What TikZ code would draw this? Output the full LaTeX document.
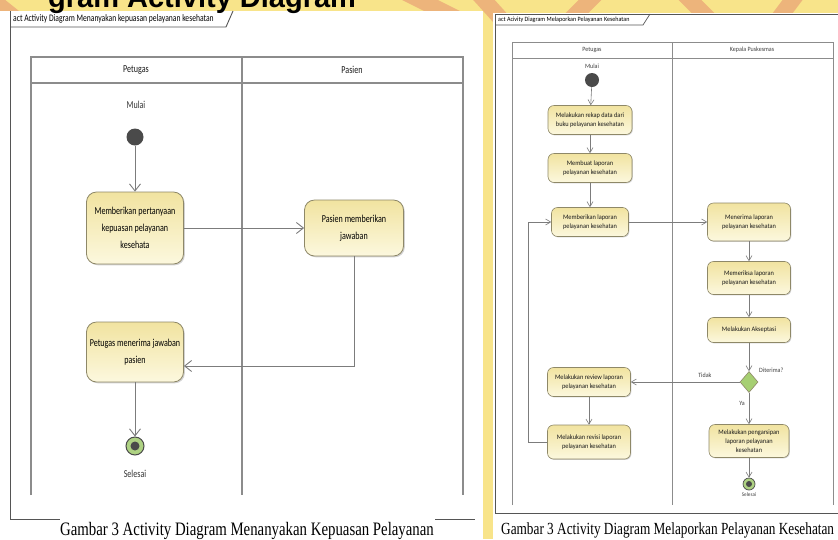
\documentclass[tikz,border=0pt]{standalone}
\usepackage{fontspec}
\usepackage{tikz}
\usetikzlibrary{arrows.meta,shapes.geometric,shadows}
\newfontfamily\leftuml[FakeStretch=0.76]{Carlito}
\newfontfamily\rightuml[FakeStretch=0.93]{Carlito}
\newfontfamily\capfont[FakeStretch=0.78]{Liberation Serif}
\newfontfamily\headfont{Liberation Sans}
\definecolor{bgyellow}{HTML}{F8E48A}
\definecolor{bgred}{HTML}{E07A6A}
\definecolor{lanegray}{HTML}{8C8C8C}
\definecolor{framegray}{HTML}{555555}
\definecolor{edgegray}{HTML}{7C7C7C}
\definecolor{boxedge}{HTML}{8E8868}
\definecolor{boxtop}{HTML}{F1E3A0}
\definecolor{boxbot}{HTML}{FCF8DE}
\definecolor{startgray}{HTML}{4A4A4A}
\definecolor{endgreen}{HTML}{AED283}
\definecolor{decgreen}{HTML}{A6CF72}
\tikzset{
  lanel/.style={draw=lanegray, line width=1.4pt},
  laner/.style={draw=lanegray, line width=0.8pt},
  frameln/.style={draw=framegray, line width=0.9pt},
  actl/.style={draw=boxedge, line width=0.8pt, rounded corners=10pt, top color=boxtop, bottom color=boxbot,
    align=center, text=black, inner sep=0pt, font=\leftuml\fontsize{10.6}{17}\selectfont,
    drop shadow={shadow xshift=1.3pt, shadow yshift=-1.3pt, opacity=0.35}},
  actr/.style={draw=boxedge, line width=0.6pt, rounded corners=6pt, top color=boxtop, bottom color=boxbot,
    align=center, text=black!90, inner sep=0pt, font=\rightuml\fontsize{6.8}{9}\selectfont,
    drop shadow={shadow xshift=0.9pt, shadow yshift=-0.9pt, opacity=0.35}},
  flowl/.style={draw=edgegray, line width=0.9pt, -{Straight Barb[length=7pt,width=11pt]}},
  flowr/.style={draw=edgegray, line width=0.6pt, -{Straight Barb[length=5pt,width=6pt]}},
  txtl/.style={text=black!80, font=\leftuml\fontsize{10.6}{12}\selectfont, inner sep=0pt},
  txtr/.style={text=black!75, font=\rightuml\fontsize{6.5}{8}\selectfont, inner sep=0pt},
  initnode/.style={circle, fill=startgray, inner sep=0pt},
  endnode/.style={circle, draw=startgray, fill=endgreen, inner sep=0pt},
  decnode/.style={diamond, draw=boxedge, line width=0.6pt, fill=decgreen, inner sep=0pt},
  caption/.style={fill=white, inner sep=2pt, text=black, font=\capfont\fontsize{19}{20}\selectfont},
  bgstroke/.style={draw=bgred, line width=16pt, opacity=0.45, line cap=round}
}
\begin{document}
\begin{tikzpicture}[x=1pt,y=-1pt]
\useasboundingbox (0,0) rectangle (838,539);
\clip (0,0) rectangle (838,539);
% background
\fill[bgyellow] (0,0) rectangle (838,539);
\draw[bgstroke] (-20,-10) -- (30,30);
\draw[bgstroke] (400,-10) -- (470,25);
\draw[bgstroke] (475,-10) -- (520,40);
\draw[bgstroke] (600,-10) -- (560,30);
\draw[bgstroke] (680,-10) -- (720,30);
\draw[bgstroke] (800,-10) -- (770,30);
\fill[white] (0,11) rectangle (483,539);
\fill[white] (493,13) rectangle (838,539);
%
% left diagram: frame and lanes
\draw[frameln] (10,519) -- (10,11);
\draw[frameln] (10,27) -- (226,27) -- (233,11);
\node[txtl, text=black, font=\leftuml\fontsize{10}{12}\selectfont, anchor=west] (llabel) at (13,19)
  {act Activity Diagram Menanyakan kepuasan pelayanan kesehatan};
\draw[frameln] (10,519) -- (60,519);
\draw[frameln] (435,519) -- (475,519);
\draw[lanel] (31,495) -- (31,57) -- (463,57) -- (463,495);
\draw[lanel] (31,83) -- (463,83);
\draw[lanel] (242,57) -- (242,495);
\node[txtl, text=black!90] (lpetugas) at (136,70) {Petugas};
\node[txtl, text=black!90] (lpasien) at (352,70) {Pasien};
%
% left diagram: activities
\node[txtl] (lmulai) at (136,105) {Mulai};
\node[initnode, minimum size=17pt] (lstart) at (135,137) {};
\node[actl, minimum width=97pt, minimum height=72pt] (ltanya) at (135,228)
  {Memberikan pertanyaan\\kepuasan pelayanan\\kesehata};
\node[actl, minimum width=99pt, minimum height=56pt] (ljawab) at (354,228)
  {Pasien memberikan\\jawaban};
\node[actl, minimum width=97pt, minimum height=60pt] (lterima) at (135,352)
  {Petugas menerima jawaban\\pasien};
\node[endnode, line width=1pt, minimum size=18pt] (lend) at (135,446) {};
\fill[startgray] (lend) circle (4.5pt);
\node[txtl] (lselesai) at (135,474) {Selesai};
%
\draw[flowl] (lstart) -- (ltanya);
\draw[flowl] (ltanya) -- (ljawab);
\draw[flowl] (ljawab.south) |- ([yshift=-14pt]lterima.east);
\draw[flowl] (lterima) -- (lend);
%
% right diagram: frame and lanes
\draw[frameln, line width=0.7pt] (495,513) -- (495,14) -- (838,14);
\draw[frameln, line width=0.7pt] (495,513) -- (838,513);
\draw[frameln, line width=0.7pt] (495,25) -- (643,25) -- (650,14);
\node[txtr, text=black, anchor=west] (rlabel) at (498,20) {act Acivity Diagram Melaporkan Pelayanan Kesehatan};
\draw[laner] (512,505) -- (512,42) -- (833,42) -- (833,505);
\draw[laner] (512,58) -- (833,58);
\draw[laner] (672,42) -- (672,505);
\node[txtr] (rpetugas) at (592,50) {Petugas};
\node[txtr] (rkepala) at (752,50) {Kepala Puskesmas};
%
% right diagram: activities
\node[txtr] (rmulai) at (592,66) {Mulai};
\node[initnode, minimum size=14pt] (rstart) at (592,80) {};
\node[actr, minimum width=84pt, minimum height=29pt] (rrekap) at (590,120)
  {Melakukan rekap data dari\\buku pelayanan kesehatan};
\node[actr, minimum width=84pt, minimum height=29pt] (rbuat) at (590,168)
  {Membuat laporan\\pelayanan kesehatan};
\node[actr, minimum width=77pt, minimum height=29pt] (rberi) at (590,222)
  {Memberikan laporan\\pelayanan kesehatan};
\node[actr, minimum width=83pt, minimum height=38pt] (rterima) at (749,222)
  {Menerima laporan\\pelayanan kesehatan};
\node[actr, minimum width=83pt, minimum height=33pt] (rperiksa) at (749,278)
  {Memeriksa laporan\\pelayanan kesehatan};
\node[actr, minimum width=83pt, minimum height=25pt] (rakseptasi) at (749,330)
  {Melakukan Akseptasi};
\node[decnode, minimum width=18pt, minimum height=21pt] (rcek) at (749,382) {};
\node[txtr, anchor=west] (rcekl) at (759,370) {Diterima?};
\node[actr, minimum width=83pt, minimum height=29pt] (rreview) at (589,382)
  {Melakukan review laporan\\pelayanan kesehatan};
\node[actr, minimum width=83pt, minimum height=34pt] (rrevisi) at (589,442)
  {Melakukan revisi laporan\\pelayanan kesehatan};
\node[actr, minimum width=80pt, minimum height=33pt] (rarsip) at (749,441)
  {Melakukan pengarsipan\\laporan pelayanan\\kesehatan};
\node[endnode, line width=0.7pt, minimum size=12pt] (rend) at (749,484) {};
\fill[startgray] (rend) circle (3pt);
\node[txtr, font=\rightuml\fontsize{5.5}{7}\selectfont] (rselesai) at (749,495) {Selesai};
%
\draw[flowr] (rstart) -- (rrekap);
\draw[flowr] (rrekap) -- (rbuat);
\draw[flowr] (rbuat) -- (rberi);
\draw[flowr] (rberi) -- (rterima);
\draw[flowr] (rterima) -- (rperiksa);
\draw[flowr] (rperiksa) -- (rakseptasi);
\draw[flowr] (rakseptasi) -- (rcek);
\draw[flowr] (rcek) -- node[txtr, above=4pt, pos=0.32] {Tidak} (rreview);
\draw[flowr] (rreview) -- (rrevisi);
\draw[flowr] (rrevisi.west) -- ++(-19,0) |- (rberi.west);
\draw[flowr] (rcek) -- node[txtr, left=4pt, pos=0.35] {Ya} (rarsip);
\draw[flowr] (rarsip) -- (rend);
%
% captions
\node[caption, anchor=base] (lcaption) at (247,535) {Gambar 3 Activity Diagram Menanyakan Kepuasan Pelayanan};
\node[caption, anchor=base west, font=\capfont\fontsize{17}{18}\selectfont] (rcaption) at (499,534)
  {Gambar 3 Activity Diagram Melaporkan Pelayanan Kesehatan};
% heading behind the pictures
\node[anchor=base west, inner sep=0pt, font=\headfont\bfseries\fontsize{29}{30}\selectfont] (heading) at (48,7)
  {gram Activity Diagram};
\end{tikzpicture}
\end{document}
